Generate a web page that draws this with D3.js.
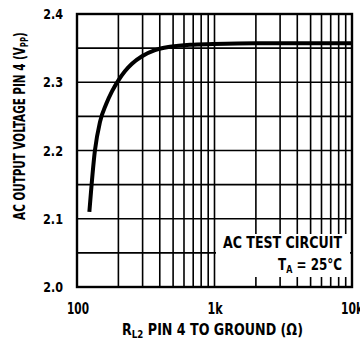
<!DOCTYPE html>
<html><head><meta charset="utf-8">
<script src="https://cdn.jsdelivr.net/npm/d3@7"></script>
<style>
body{margin:0;background:#fff;}
text{font-family:"DejaVu Sans Condensed","Liberation Sans Narrow","DejaVu Sans",sans-serif;font-stretch:condensed;font-weight:bold;fill:#000;}
</style></head>
<body><svg id="c" width="360" height="350"></svg>
<script>
const resistance = [123, 135, 147, 163, 180, 199, 223, 251, 297, 369, 475, 663, 975, 2000, 10000];
const voltage    = [2.11, 2.2, 2.242, 2.268, 2.287, 2.302, 2.316, 2.327, 2.338, 2.347, 2.352, 2.355, 2.356, 2.357, 2.357];
const xTickValues = [100, 1000, 10000];
const xTickLabels = ["100", "1k", "10k"];
const yTickValues = [2.0, 2.1, 2.2, 2.3, 2.4];
const yTickLabels = ["2.0", "2.1", "2.2", "2.3", "2.4"];
const yGrid = [2.05, 2.15, 2.25, 2.35];
const xMinor = [200,300,400,500,600,700,800,900,2000,3000,4000,5000,6000,7000,8000,9000];

const L = 77, R = 352, T = 14, B = 287;
const svg = d3.select("#c");
const x = d3.scaleLog().domain([100, 10000]).range([L, R]);
const y = d3.scaleLinear().domain([2.0, 2.4]).range([B, T]);

function place(sel, px, py, width, rot) {
  const w = sel.node().getBBox().width;
  const sx = width / w;
  sel.attr("transform", `translate(${px},${py})` + (rot ? ` rotate(${rot})` : "") + ` scale(${sx},1)`);
}

const g = svg.append("g");
g.selectAll("line.hg").data(yTickValues.concat(yGrid)).enter().append("line")
  .attr("x1", L).attr("x2", R).attr("y1", d => y(d)).attr("y2", d => y(d))
  .attr("stroke", "#000").attr("stroke-width", 1.6);
g.selectAll("line.vg").data(xTickValues.concat(xMinor)).enter().append("line")
  .attr("y1", T).attr("y2", B).attr("x1", d => x(d)).attr("x2", d => x(d))
  .attr("stroke", "#000").attr("stroke-width", 1.6);

svg.append("rect").attr("x", 216).attr("y", 234).attr("width", 134).attr("height", 43).attr("fill", "#fff");

svg.append("rect").attr("x", L).attr("y", T).attr("width", R - L).attr("height", B - T)
  .attr("fill", "none").attr("stroke", "#000").attr("stroke-width", 2.4);

const line = d3.line().x((d, i) => x(resistance[i])).y(d => y(d)).curve(d3.curveMonotoneX);
svg.append("path").attr("d", line(voltage)).attr("fill", "none")
  .attr("stroke", "#000").attr("stroke-width", 4).attr("stroke-linecap", "butt");

yTickValues.forEach((d, i) => {
  const t = svg.append("text").attr("text-anchor", "end").attr("font-size", 14).text(yTickLabels[i]);
  place(t, 63, y(d) + 5, 20);
});
const xWidths = [22, 16, 23];
xTickValues.forEach((d, i) => {
  const t = svg.append("text").attr("text-anchor", "middle").attr("font-size", 15).text(xTickLabels[i]);
  place(t, i === 0 ? 78 : i === 1 ? 215 : 352, 314, xWidths[i]);
});

const xt = svg.append("text").attr("text-anchor", "middle").attr("font-size", 16);
xt.append("tspan").text("R");
xt.append("tspan").attr("font-size", 11).attr("dy", 3).text("L2");
xt.append("tspan").attr("dy", -3).text(" PIN 4 TO GROUND (Ω)");
place(xt, 212.5, 335, 181);

const yt = svg.append("text").attr("text-anchor", "middle").attr("font-size", 15.5);
yt.append("tspan").text("AC OUTPUT VOLTAGE PIN 4 (V");
yt.append("tspan").attr("font-size", 10.5).attr("dy", 3).text("PP");
yt.append("tspan").attr("dy", -3).text(")");
place(yt, 25, 126, 188, -90);

const a1 = svg.append("text").attr("text-anchor", "end").attr("font-size", 16.5).text("AC TEST CIRCUIT");
place(a1, 342, 248, 120);
const ta = svg.append("text").attr("text-anchor", "end").attr("font-size", 16.5);
ta.append("tspan").text("T");
ta.append("tspan").attr("font-size", 11).attr("dy", 3).text("A");
ta.append("tspan").attr("dy", -3).text(" = 25°C");
place(ta, 342, 270, 64);
</script></body></html>
